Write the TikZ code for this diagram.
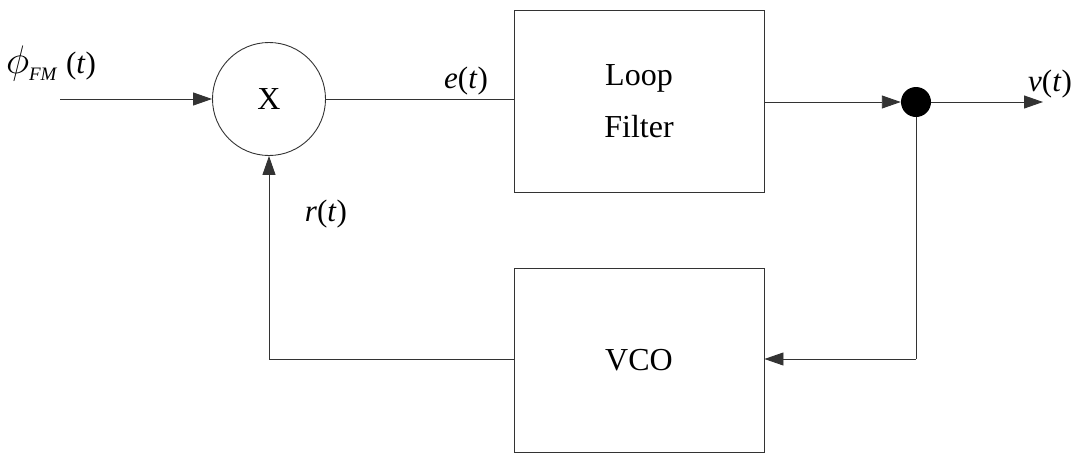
\documentclass[tikz,border=0pt]{standalone}
\usepackage{fontspec}
\setmainfont{Liberation Serif}
\usetikzlibrary{arrows.meta}
\begin{document}
\begin{tikzpicture}[x=1pt,y=-1pt,
  conn/.style={draw=black!80, line width=0.9pt},
  arr/.style={conn, -{Triangle[length=19pt,width=13pt]}},
  blk/.style={draw=black!80, line width=0.9pt, minimum width=250pt, minimum height=182pt, inner sep=0pt, font=\fontsize{32}{36}\selectfont, align=center},
  lbl/.style={font=\fontsize{31}{36}\selectfont, inner sep=0pt}]
\useasboundingbox (0,0) rectangle (1077,453);
\node[draw=black!80, line width=0.9pt, circle, minimum size=113pt, inner sep=0pt, font=\fontsize{32}{36}\selectfont] (mix) at (269,99) {X};
\node[blk] (lf) at (639,101) {Loop\\[16pt]Filter};
\node[blk, minimum height=184pt] (vco) at (639,360) {VCO};
\node[circle, fill=black, minimum size=30pt, inner sep=0pt] (dot) at (916,102) {};
\coordinate (in) at (60,99);
\coordinate (out) at (1043,102);
\coordinate (c1) at (916,359);
\coordinate (c2) at (269,359);
\node[lbl] (lphi) at (51,64) {\scalebox{1.6}{$\phi$}\raisebox{-7pt}{\fontsize{19}{20}\selectfont\textit{FM}}\;(\textit{t})};
\node[lbl] (le) at (466,81) {\textit{e}(\textit{t})};
\node[lbl] (lv) at (1050,84) {\textit{v}(\textit{t})};
\node[lbl] (lr) at (326,214) {\textit{r}(\textit{t})};
\draw[arr] (in) -- (mix.west);
\draw[conn] (mix.east) -- (lf.west |- mix.east);
\draw[arr] (lf.east |- dot) -- (dot.west);
\draw[arr] (dot.east) -- (out);
\draw[conn] (dot.south) -- (c1);
\draw[arr] (c1) -- (vco.east |- c1);
\draw[conn] (vco.west |- c2) -- (c2);
\draw[arr] (c2) -- (mix.south);
\end{tikzpicture}
\end{document}
